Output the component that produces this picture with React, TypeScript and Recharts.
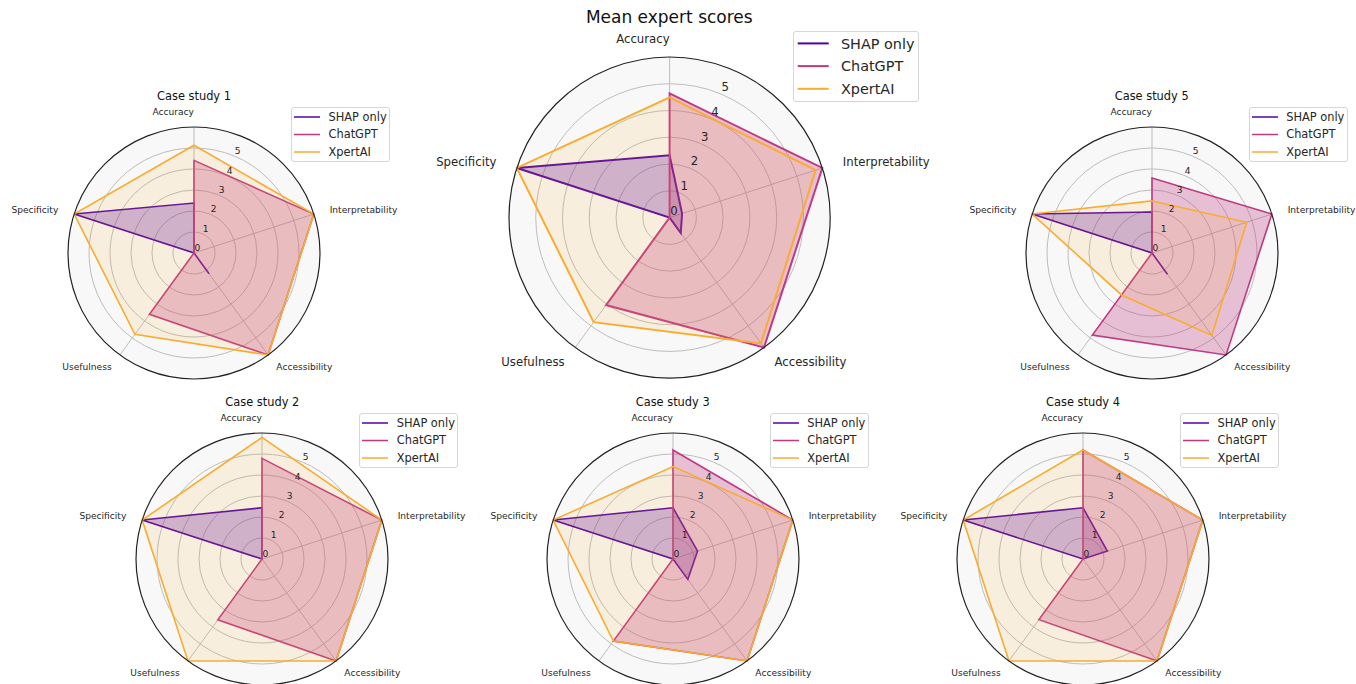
import React from 'react';
import { RadarChart, Radar, PolarGrid, PolarAngleAxis, PolarRadiusAxis } from 'recharts';

// axes go clockwise from the top
const criteria = ['Accuracy', 'Interpretability', 'Accessibility', 'Usefulness', 'Specificity'];
const seriesNames = ['SHAP only', 'ChatGPT', 'XpertAI'];
const seriesKeys = ['shap', 'chatgpt', 'xpertai'];
const seriesColors = ['#5302a3', '#c03a83', '#f8ac30'];
const seriesFillOpacity = [0.28, 0.3, 0.13];
const radiusTicks = [0, 1, 2, 3, 4, 5];
const radiusMax = 6;

// mean scores
const meanShap = [2.33, 0.49, 0.71, 0, 6];
const meanChatgpt = [4.64, 6, 6, 4.04, 0];
const meanXpertai = [4.49, 5.74, 5.81, 4.83, 6];

// case study 1
const case1Shap = [2.38, 0, 1.22, 0, 6];
const case1Chatgpt = [4.41, 6, 6, 3.61, 0];
const case1Xpertai = [5.13, 6, 6, 4.79, 6];

// case study 2
const case2Shap = [2.44, 0, 0, 0, 6];
const case2Chatgpt = [4.79, 6, 6, 3.58, 0];
const case2Xpertai = [5.79, 6, 6, 6, 6];

// case study 3
const case3Shap = [2.44, 1.23, 1.2, 0, 6];
const case3Chatgpt = [5.19, 6, 6, 4.83, 0];
const case3Xpertai = [4.4, 6, 6, 4.83, 6];

// case study 4
const case4Shap = [2.44, 1.22, 0, 0, 6];
const case4Chatgpt = [5.19, 6, 6, 3.57, 0];
const case4Xpertai = [5.19, 6, 6, 6, 6];

// case study 5
const case5Shap = [1.95, 0, 1.25, 0, 6];
const case5Chatgpt = [3.57, 6, 6, 4.83, 0];
const case5Xpertai = [2.48, 4.74, 4.85, 2.47, 6];

const FONT = '"DejaVu Sans", Verdana, sans-serif';
const TEXT = '#262626';

const big = { R: 160.6, labelFs: 11.7, tickFs: 11.7, titleFs: 17, titleDy: -200, pad: 12, padX: 10,
  tickDx: 4.5, tickDy: -6.7, legendFs: 14.4, legendDx: 124, legendDy: -186, legendW: 126, legendH: 71,
  rowGap: 22.7, rowTop: 12.4, lineL: 4.7, lineW: 31, textL: 46.7, lineSW: 2, seriesSW: 2 };
const small = { R: 126, labelFs: 9.1, tickFs: 9.1, titleFs: 11.4, titleDy: -156, pad: 10, padX: 7,
  tickDx: 3.5, tickDy: -4.8, legendFs: 11.4, legendDx: 97, legendDy: -146, legendW: 99, legendH: 55,
  rowGap: 17.5, rowTop: 10, lineL: 3, lineW: 26, textL: 36.5, lineSW: 1.5, seriesSW: 1.6 };

const panels = [
  { title: 'Mean expert scores', cx: 669.3, cy: 217.3, style: big, values: [meanShap, meanChatgpt, meanXpertai] },
  { title: 'Case study 1', cx: 194, cy: 252.7, style: small, values: [case1Shap, case1Chatgpt, case1Xpertai] },
  { title: 'Case study 5', cx: 1151.7, cy: 252.7, style: small, values: [case5Shap, case5Chatgpt, case5Xpertai] },
  { title: 'Case study 2', cx: 262.3, cy: 559, style: small, values: [case2Shap, case2Chatgpt, case2Xpertai] },
  { title: 'Case study 3', cx: 672.7, cy: 559, style: small, values: [case3Shap, case3Chatgpt, case3Xpertai] },
  { title: 'Case study 4', cx: 1083, cy: 559, style: small, values: [case4Shap, case4Chatgpt, case4Xpertai] },
];

const RadarPanel = ({ title, cx, cy, style, values }: any) => {
  const s = style;
  const W = 2 * s.R + 260;
  const H = 2 * s.R + 80;
  const ox = W / 2;
  const oy = H / 2;

  const data = criteria.map((c, i) => ({
    criterion: c,
    shap: values[0][i],
    chatgpt: values[1][i],
    xpertai: values[2][i],
  }));

  const angleTick = (props: any) => {
    const { payload } = props;
    const a = (payload.coordinate * Math.PI) / 180;
    const c = Math.cos(a);
    const sn = Math.sin(a);
    const top = Math.abs(c) < 0.01;
    const r = s.R + s.pad + s.padX * Math.abs(c);
    const x = top ? ox : ox + r * c;
    const y = oy - (s.R + s.pad) * sn - (sn * s.labelFs) / 2;
    const anchor = top ? 'end' : c > 0 ? 'start' : 'end';
    return (
      <text x={x} y={y} textAnchor={anchor} dominantBaseline="central" fontSize={s.labelFs} fontFamily={FONT} fill={TEXT}>
        {payload.value}
      </text>
    );
  };

  const radiusTick = (props: any) => {
    const { x, y, payload } = props;
    return (
      <text x={x + s.tickDx} y={y + s.tickDy} textAnchor="middle" dominantBaseline="central" fontSize={s.tickFs} fontFamily={FONT} fill={TEXT}>
        {payload.value}
      </text>
    );
  };

  return (
    <div style={{ position: 'absolute', left: cx - ox, top: cy - oy, width: W, height: H }}>
      <div
        style={{
          position: 'absolute',
          left: ox - s.R,
          top: oy - s.R,
          width: 2 * s.R,
          height: 2 * s.R,
          borderRadius: '50%',
          background: '#f8f8f8',
        }}
      />
      <RadarChart
        width={W}
        height={H}
        cx={ox}
        cy={oy}
        outerRadius={s.R}
        data={data}
        margin={{ top: 0, right: 0, bottom: 0, left: 0 }}
        style={{ position: 'absolute', left: 0, top: 0, overflow: 'visible' }}
      >
        <PolarGrid gridType="circle" stroke="#bdbdbd" strokeWidth={1} />
        <PolarAngleAxis
          dataKey="criterion"
          tick={angleTick}
          tickLine={false}
          axisLineType="circle"
          axisLine={{ stroke: '#222', strokeWidth: 1.2 }}
        />
        <PolarRadiusAxis
          angle={67.5}
          domain={[0, radiusMax]}
          ticks={radiusTicks}
          tick={radiusTick}
          axisLine={false}
          tickLine={false}
        />
        {seriesKeys.map((k, i) => (
          <Radar
            key={k}
            name={seriesNames[i]}
            dataKey={k}
            stroke={seriesColors[i]}
            strokeWidth={s.seriesSW}
            fill={seriesColors[i]}
            fillOpacity={seriesFillOpacity[i]}
            dot={false}
            isAnimationActive={false}
          />
        ))}
      </RadarChart>
      <div
        style={{
          position: 'absolute',
          left: 0,
          width: W,
          top: oy + s.titleDy - s.titleFs * 0.6,
          textAlign: 'center',
          fontSize: s.titleFs,
          fontFamily: FONT,
          color: '#111',
          lineHeight: `${s.titleFs * 1.2}px`,
        }}
      >
        {title}
      </div>
      <div
        style={{
          position: 'absolute',
          left: ox + s.legendDx,
          top: oy + s.legendDy,
          width: s.legendW,
          height: s.legendH,
          boxSizing: 'border-box',
          border: '1px solid #d6d6d6',
          borderRadius: 3,
          background: 'rgba(255,255,255,0.85)',
        }}
      >
        <svg width={s.legendW} height={s.legendH} style={{ position: 'absolute', left: -1, top: -1 }}>
          {seriesNames.map((n, i) => (
            <line
              key={n}
              x1={s.lineL}
              x2={s.lineL + s.lineW}
              y1={s.rowTop + i * s.rowGap}
              y2={s.rowTop + i * s.rowGap}
              stroke={seriesColors[i]}
              strokeWidth={s.lineSW}
            />
          ))}
        </svg>
        {seriesNames.map((n, i) => (
          <div
            key={n}
            style={{
              position: 'absolute',
              left: s.textL,
              top: s.rowTop + i * s.rowGap - s.legendFs * 0.62,
              fontSize: s.legendFs,
              fontFamily: FONT,
              color: TEXT,
              whiteSpace: 'nowrap',
              lineHeight: `${s.legendFs * 1.2}px`,
            }}
          >
            {n}
          </div>
        ))}
      </div>
    </div>
  );
};

export default function App() {
  return (
    <div style={{ position: 'absolute', left: 0, top: 0, width: 1356, height: 684, background: '#fff', overflow: 'hidden' }}>
      {panels.map((p) => (
        <RadarPanel key={p.title} {...p} />
      ))}
    </div>
  );
}
